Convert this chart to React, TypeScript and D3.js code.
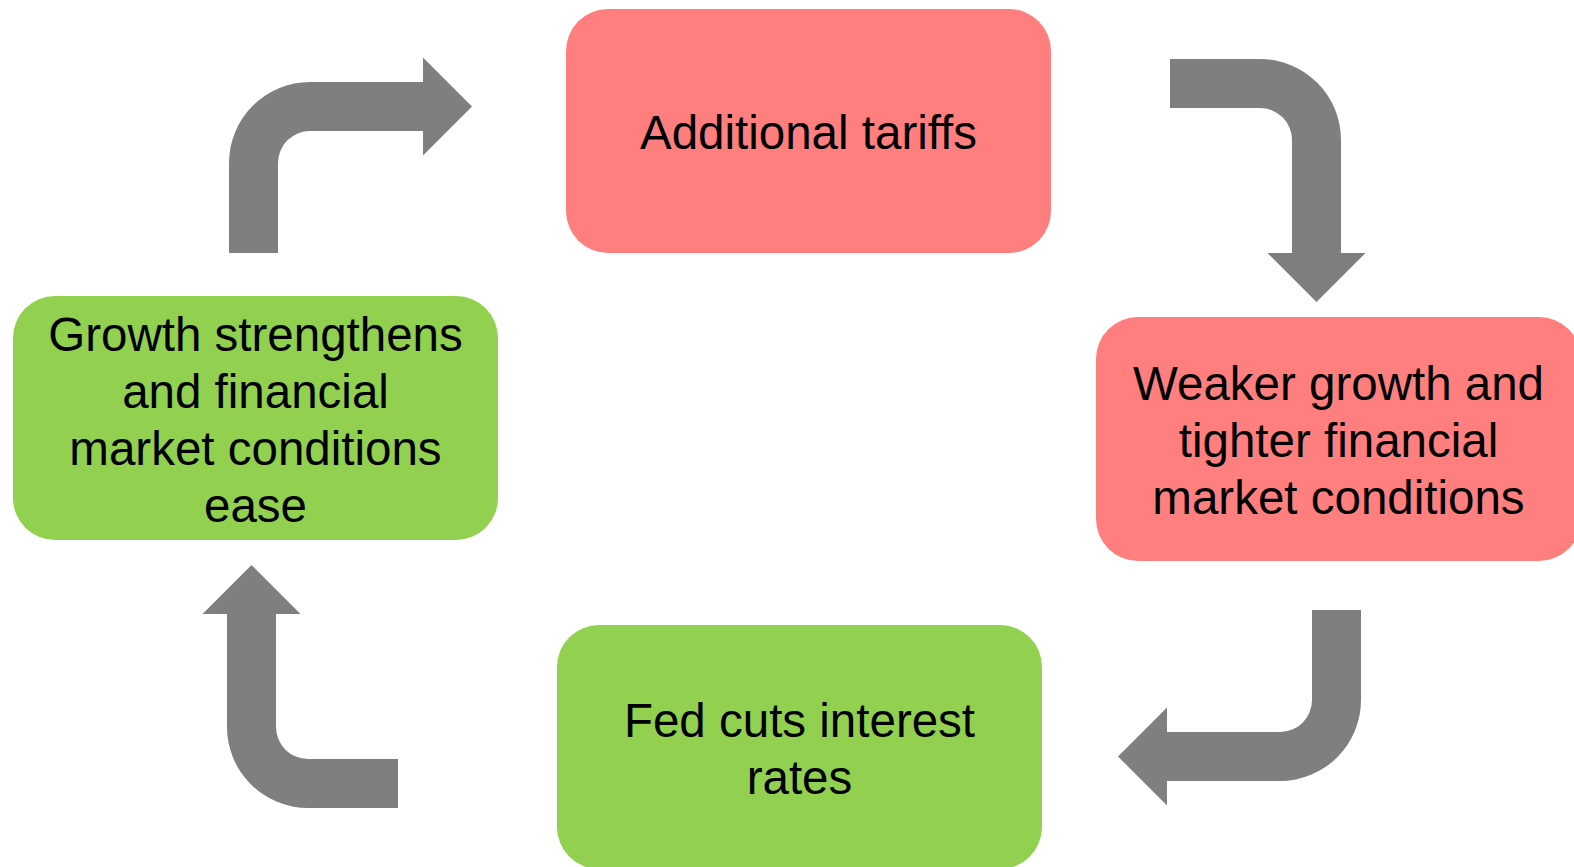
import React, { useEffect, useRef } from "react";
import { select, path } from "d3";

const W = 1574;
const H = 867;

// nodes of the cycle, clockwise from the top
const nodeLabels = [
  ["Additional tariffs"],
  ["Weaker growth and", "tighter financial", "market conditions"],
  ["Fed cuts interest", "rates"],
  ["Growth strengthens", "and financial", "market conditions", "ease"],
];
const nodeTone = ["bad", "bad", "good", "good"];

// layout (top-left corner of each box)
const boxX = [566, 1096, 557, 13];
const boxY = [9, 317, 625, 296];
const boxW = 485;
const boxH = 244;
const boxR = 42;

// arrows: corner centre + rotation
const arrowCx = [310, 1260, 1280, 308];
const arrowCy = [163, 140, 700, 727];
const arrowRot = [0, 90, 180, 270];

const toneColor: Record<string, string> = { bad: "#ff7f7f", good: "#92d050" };
const lineGap = 57;
const fontSize = 47.5;

// bent arrow: tail goes up, turns right, head points right
function bentArrow() {
  const R = 81, r = 32, tail = 90, run = 113, head = 49, half = 49;
  const mid = -(R + r) / 2;
  const p = path();
  p.moveTo(-R, tail);
  p.lineTo(-R, 0);
  p.arc(0, 0, R, Math.PI, Math.PI * 1.5, false);
  p.lineTo(run, -R);
  p.lineTo(run, mid - half);
  p.lineTo(run + head, mid);
  p.lineTo(run, mid + half);
  p.lineTo(run, -r);
  p.lineTo(0, -r);
  p.arc(0, 0, r, Math.PI * 1.5, Math.PI, true);
  p.lineTo(-r, tail);
  p.closePath();
  return p.toString();
}

export default function App() {
  const svgRef = useRef<SVGSVGElement>(null);

  useEffect(() => {
    const svg = select(svgRef.current);
    svg.selectAll("*").remove();

    const d = bentArrow();
    svg
      .selectAll(".arrow")
      .data(arrowCx)
      .join("path")
      .attr("class", "arrow")
      .attr("d", d)
      .attr("transform", (cx, i) => `translate(${cx},${arrowCy[i]}) rotate(${arrowRot[i]})`)
      .attr("fill", "#7f7f7f");

    const nodes = svg
      .selectAll(".node")
      .data(nodeLabels)
      .join("g")
      .attr("class", "node")
      .attr("transform", (_, i) => `translate(${boxX[i]},${boxY[i]})`);

    nodes
      .append("rect")
      .attr("width", boxW)
      .attr("height", boxH)
      .attr("rx", boxR)
      .attr("ry", boxR)
      .attr("fill", (_, i) => toneColor[nodeTone[i]]);

    nodes.each(function (lines) {
      const g = select(this);
      const first = boxH / 2 - ((lines.length - 1) * lineGap) / 2 + fontSize * 0.38;
      g.selectAll("text")
        .data(lines)
        .join("text")
        .attr("x", boxW / 2)
        .attr("y", (_, j) => first + j * lineGap)
        .attr("text-anchor", "middle")
        .attr("font-family", "'Liberation Sans', Arial, sans-serif")
        .attr("font-size", fontSize)
        .attr("fill", "#000")
        .text((t) => t);
    });
  }, []);

  return (
    <svg
      ref={svgRef}
      width={W}
      height={H}
      style={{ position: "absolute", left: 0, top: 0, background: "#fff" }}
    />
  );
}
